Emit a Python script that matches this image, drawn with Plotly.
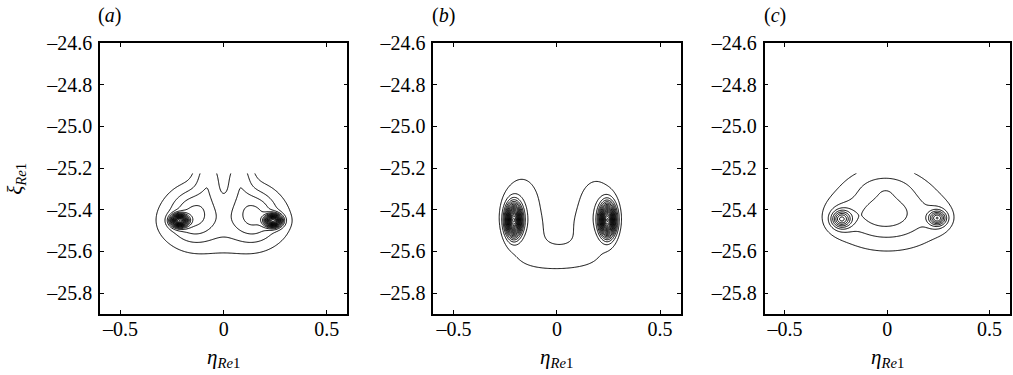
import numpy as np
import plotly.graph_objects as go

# ---- grid extent of the computed field (top edge cut as in the reference) ----
GRID_X = [-0.45, 0.45]
GRID_Y = [-25.80, -25.225]

# ---- panel (a): blob components (centre x, centre y, amplitude, sigma x, sigma y) ----
A_CX  = [0.00, -0.15, 0.15, -0.075, 0.075, -0.215, 0.240]
A_CY  = [-25.46, -25.42, -25.42, -25.23, -25.23, -25.452, -25.452]
A_AMP = [2.0, 2.8, 2.8, 2.3, 2.3, 16.0, 16.0]
A_SX  = [0.25, 0.075, 0.075, 0.045, 0.045, 0.026, 0.026]
A_SY  = [0.119, 0.085, 0.085, 0.08, 0.08, 0.019, 0.019]

# ---- panel (b) ----
B_CX  = [-0.17, 0.19, 0.00, -0.10, 0.11, -0.21, 0.245]
B_CY  = [-25.39, -25.40, -25.63, -25.50, -25.49, -25.45, -25.45]
B_AMP = [1.6, 1.6, 1.4, 0.4, 0.4, 18.0, 18.0]
B_SX  = [0.085, 0.085, 0.15, 0.05, 0.05, 0.025, 0.025]
B_SY  = [0.14, 0.14, 0.06, 0.06, 0.06, 0.05, 0.05]

# ---- panel (c) ----
C_CX  = [0.00, -0.02, -0.02, -0.01, -0.22, 0.245, -0.224, 0.245]
C_CY  = [-25.42, -25.42, -25.20, -25.29, -25.44, -25.44, -25.445, -25.44]
C_AMP = [3.0, 0.7, 0.5, 0.8, 1.3, 1.2, 5.5, 5.5]
C_SX  = [0.20, 0.09, 0.15, 0.09, 0.045, 0.04, 0.03, 0.027]
C_SY  = [0.12, 0.05, 0.10, 0.04, 0.045, 0.04, 0.026, 0.022]

PANEL_LABELS = ["(<i>a</i>)", "(<i>b</i>)", "(<i>c</i>)"]
X_TICKS = [-0.5, 0, 0.5]
X_TICKTEXT = ["\u20130.5", "0", "0.5"]
Y_TICKS = [-25.8, -25.6, -25.4, -25.2, -25.0, -24.8, -24.6]
Y_TICKTEXT = ["\u201325.8", "\u201325.6", "\u201325.4", "\u201325.2", "\u201325.0", "\u201324.8", "\u201324.6"]
X_TITLE = "<i>\u03b7</i><sub><i>Re</i>1</sub>"
Y_TITLE = "<i>\u03be</i><sub><i>Re</i>1</sub>"

xg = np.linspace(GRID_X[0], GRID_X[1], 226)
yg = np.linspace(GRID_Y[0], GRID_Y[1], 145)
XX, YY = np.meshgrid(xg, yg)


def field(cx, cy, amp, sx, sy):
    z = np.zeros_like(XX)
    for a, b, c, d, e in zip(cx, cy, amp, sx, sy):
        z += c * np.exp(-0.5 * (((XX - a) / d) ** 2 + ((YY - b) / e) ** 2))
    return z


fields = [field(A_CX, A_CY, A_AMP, A_SX, A_SY),
          field(B_CX, B_CY, B_AMP, B_SX, B_SY),
          field(C_CX, C_CY, C_AMP, C_SX, C_SY)]

L, R, T, B = 100, 1, 43, 61
W, H = 1013, 375
PW = W - L - R
PH = H - T - B
px_left = [100, 434, 766]
px_right = [348, 682, 1012]
domains = [[(pl - L) / PW, (pr - L) / PW] for pl, pr in zip(px_left, px_right)]

fig = go.Figure()
FONT = "Liberation Serif, Times New Roman, serif"

for i, z in enumerate(fields):
    sfx = "" if i == 0 else str(i + 1)
    fig.add_trace(go.Contour(
        x=xg, y=yg, z=z,
        xaxis="x" + sfx, yaxis="y" + sfx,
        contours=dict(start=1, end=40, size=1, coloring="lines"),
        colorscale=[[0, "black"], [1, "black"]],
        showscale=False, line=dict(width=1), hoverinfo="skip",
    ))
    axcommon = dict(showline=True, linecolor="black", linewidth=1.5, mirror="ticks",
                    ticks="inside", ticklen=4, tickwidth=1, tickcolor="black",
                    showgrid=False, zeroline=False,
                    tickfont=dict(family=FONT, size=20, color="black"))
    fig.update_layout(**{
        "xaxis" + sfx: dict(domain=domains[i], range=[-0.6, 0.6], tickvals=X_TICKS,
                            ticktext=X_TICKTEXT, anchor="y" + sfx,
                            ticklabelstandoff=-4, **axcommon),
        "yaxis" + sfx: dict(domain=[0, 1], range=[-25.9, -24.6], tickvals=Y_TICKS,
                            ticktext=Y_TICKTEXT, anchor="x" + sfx,
                            ticklabelstandoff=2, **axcommon),
    })
    cx = (px_left[i] + px_right[i]) / 2
    fig.add_annotation(text=PANEL_LABELS[i], xref="paper", yref="paper",
                       x=(px_left[i] + 10 - L) / PW, y=1 + (T - 15) / PH,
                       showarrow=False, xanchor="center", yanchor="middle",
                       font=dict(family=FONT, size=20, color="black"))
    fig.add_annotation(text=X_TITLE, xref="paper", yref="paper",
                       x=(cx - L) / PW, y=-(358 - (T + PH)) / PH,
                       showarrow=False, xanchor="center", yanchor="middle",
                       font=dict(family=FONT, size=21, color="black"))

fig.add_annotation(text=Y_TITLE, xref="paper", yref="paper",
                   x=(15 - L) / PW, y=0.5, textangle=-90,
                   showarrow=False, xanchor="center", yanchor="middle",
                   font=dict(family=FONT, size=21, color="black"))

fig.update_layout(width=W, height=H, margin=dict(l=L, r=R, t=T, b=B),
                  plot_bgcolor="white", paper_bgcolor="white", showlegend=False)

fig.write_html("out.html", config={"displayModeBar": False},
               post_script="document.body.style.margin='0';document.body.style.padding='0';")
